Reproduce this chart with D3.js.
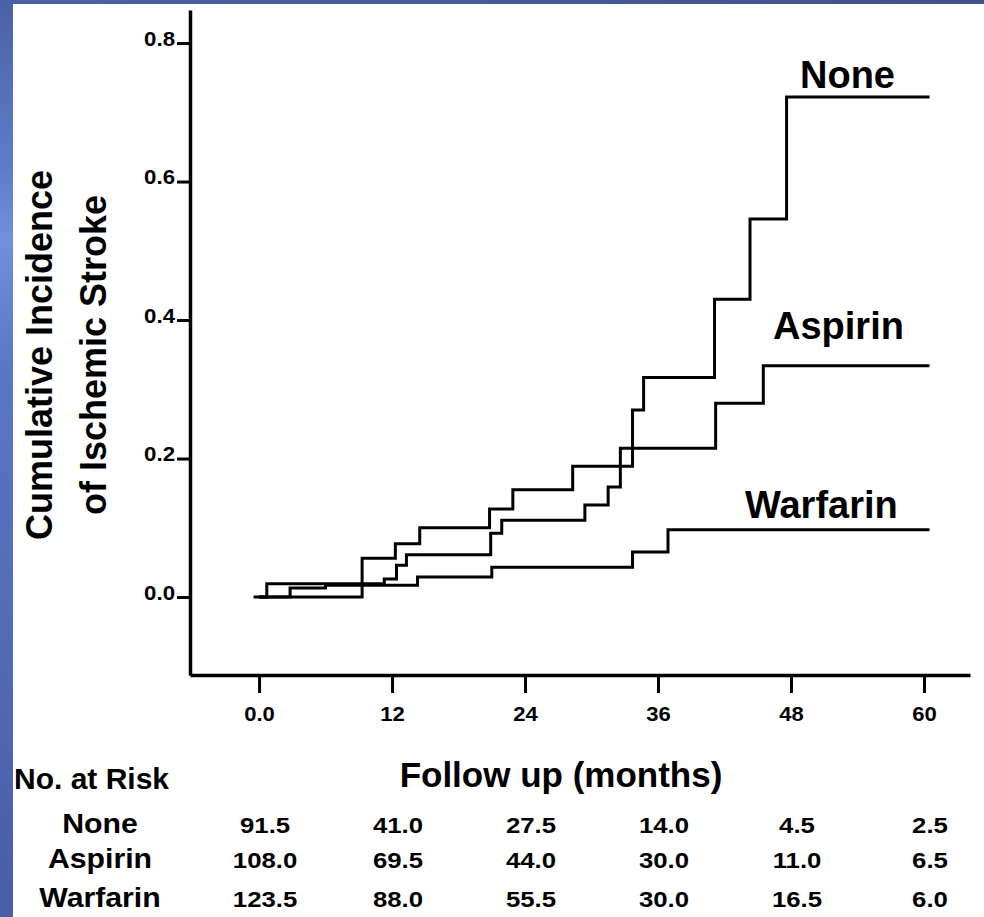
<!DOCTYPE html>
<html>
<head>
<meta charset="utf-8">
<script src="https://cdn.jsdelivr.net/npm/d3@7"></script>
<style>
    html, body { margin: 0; padding: 0; background: #fff; }
    svg { display: block; font-family: "Liberation Sans", Arial, Helvetica, sans-serif; font-weight: bold; }
</style>
</head>
<body>
<svg id="km_chart" width="984" height="917"></svg>
<script>
// step curves: [month, cumulative incidence]
var noneSteps = [[-0.5, 0], [9.3, 0.056], [12.3, 0.077], [14.5, 0.1], [20.8, 0.127], [22.9, 0.155],
    [28.3, 0.189], [33.7, 0.27], [34.7, 0.317], [41.1, 0.43], [44.3, 0.546], [47.6, 0.722], [60.5, 0.722]];
var aspirinSteps = [[0, 0], [0.7, 0.019], [11.3, 0.026], [12.4, 0.046], [13.3, 0.061], [20.9, 0.092],
    [21.9, 0.111], [29.4, 0.133], [31.5, 0.159], [32.6, 0.215], [41.2, 0.28], [45.5, 0.334], [60.5, 0.334]];
var warfarinSteps = [[0, 0], [2.8, 0.013], [6, 0.017], [14.3, 0.029], [21, 0.043], [33.7, 0.065],
    [36.9, 0.097], [60.5, 0.097]];

var seriesNames = ["None", "Aspirin", "Warfarin"];

var xTicks = [0, 12, 24, 36, 48, 60];
var xTickLabels = ["0.0", "12", "24", "36", "48", "60"];
var yTicks = [0, 0.2, 0.4, 0.6, 0.8];

// numbers at risk
var riskMonths = [0, 12, 24, 36, 48, 60];
var riskNone = ["91.5", "41.0", "27.5", "14.0", "4.5", "2.5"];
var riskAspirin = ["108.0", "69.5", "44.0", "30.0", "11.0", "6.5"];
var riskWarfarin = ["123.5", "88.0", "55.5", "30.0", "16.5", "6.0"];

function build_chart() {
    var svg = d3.select("#km_chart");

    // slide background (blue frame on top and left)
    var defs = svg.append("defs");
    var leftGrad = defs.append("linearGradient").attr("id", "leftGrad")
        .attr("x1", 0).attr("y1", 0).attr("x2", 0).attr("y2", 1);
    [["0%", "#4a62a6"], ["18%", "#5d7cc8"], ["26%", "#7090dc"], ["40%", "#5a77c2"], ["100%", "#485ea6"]]
        .forEach(s => leftGrad.append("stop").attr("offset", s[0]).attr("stop-color", s[1]));
    var topGrad = defs.append("linearGradient").attr("id", "topGrad")
        .attr("x1", 0).attr("y1", 0).attr("x2", 1).attr("y2", 0);
    [["0%", "#4a62a6"], ["100%", "#3f528c"]]
        .forEach(s => topGrad.append("stop").attr("offset", s[0]).attr("stop-color", s[1]));

    svg.append("rect").attr("width", 984).attr("height", 917).attr("fill", "#fff");
    svg.append("rect").attr("x", 0).attr("y", 0).attr("width", 13).attr("height", 917).attr("fill", "url(#leftGrad)");
    svg.append("rect").attr("x", 0).attr("y", 0).attr("width", 984).attr("height", 4).attr("fill", "url(#topGrad)");

    // scales, extended so the axis lines run past the first and last ticks
    var x = d3.scaleLinear().domain([-6.23, 64.15]).range([190, 970]);
    var y = d3.scaleLinear().domain([-0.1126, 0.8477]).range([675, 10]);

    // x axis
    var xAxis = svg.append("g")
        .attr("transform", "translate(0," + y.range()[0] + ")")
        .call(d3.axisBottom(x).tickValues(xTicks).tickSize(18).tickSizeOuter(0)
            .tickFormat((d, i) => xTickLabels[i]));
    xAxis.select(".domain").attr("stroke", "#000").attr("stroke-width", 3.5);
    xAxis.selectAll(".tick line").attr("stroke", "#000").attr("stroke-width", 3);
    xAxis.selectAll(".tick text")
        .attr("y", 0).attr("dy", 0)
        .attr("transform", "translate(0,46) scale(1.05,1)")
        .attr("fill", "#000")
        .style("font-size", "21px").style("font-weight", "bold");
    xAxis.attr("font-family", null).attr("font-size", null);

    // y axis
    var yAxis = svg.append("g")
        .attr("transform", "translate(" + x.range()[0] + ",0)")
        .call(d3.axisLeft(y).tickValues(yTicks).tickSize(13).tickSizeOuter(0)
            .tickFormat(d3.format(".1f")));
    yAxis.select(".domain").attr("stroke", "#000").attr("stroke-width", 3.5);
    yAxis.selectAll(".tick line").attr("stroke", "#000").attr("stroke-width", 3);
    yAxis.selectAll(".tick text")
        .attr("x", 0).attr("dy", 0)
        .attr("transform", "translate(-15,2) scale(1.06,1)")
        .attr("fill", "#000")
        .style("font-size", "21px").style("font-weight", "bold");
    yAxis.attr("font-family", null).attr("font-size", null);

    // step curves
    var line = d3.line()
        .x(d => x(d[0]))
        .y(d => y(d[1]))
        .curve(d3.curveStepAfter);

    svg.append("g").selectAll("path")
        .data([noneSteps, aspirinSteps, warfarinSteps])
        .join("path")
        .attr("d", line)
        .attr("fill", "none")
        .attr("stroke", "#000")
        .attr("stroke-width", 3);

    // curve labels
    var curveLabels = [[800, 88], [773, 339], [745, 518]];
    svg.append("g").selectAll("text")
        .data(seriesNames)
        .join("text")
        .attr("x", (d, i) => curveLabels[i][0])
        .attr("y", (d, i) => curveLabels[i][1])
        .style("font-size", "38px")
        .text(d => d);

    // y axis title
    var yTitle = svg.append("text")
        .attr("transform", "translate(52,355) rotate(-90)")
        .attr("text-anchor", "middle")
        .style("font-size", "36px");
    yTitle.append("tspan").attr("x", 0).attr("y", 0).text("Cumulative Incidence");
    yTitle.append("tspan").attr("x", 0).attr("y", 54).text("of Ischemic Stroke");

    // x axis title
    svg.append("text")
        .attr("x", 561).attr("y", 787)
        .attr("text-anchor", "middle")
        .style("font-size", "35px")
        .text("Follow up (months)");

    // numbers at risk table
    svg.append("text")
        .attr("x", 14).attr("y", 789)
        .style("font-size", "30px")
        .text("No. at Risk");

    var rowBaselines = [833, 868, 907];
    var rows = [riskNone, riskAspirin, riskWarfarin];

    svg.append("g").selectAll("text")
        .data(seriesNames)
        .join("text")
        .attr("text-anchor", "middle")
        .attr("transform", (d, i) => "translate(100," + rowBaselines[i] + ") scale(1.08,1)")
        .style("font-size", "28px")
        .text(d => d);

    var rowGroups = svg.append("g").selectAll("g")
        .data(rows)
        .join("g")
        .attr("transform", (d, i) => "translate(0," + rowBaselines[i] + ")");
    rowGroups.selectAll("text")
        .data(d => d)
        .join("text")
        .attr("text-anchor", "middle")
        .attr("transform", (d, i) => "translate(" + (x(riskMonths[i]) + 6) + ",0) scale(1.12,1)")
        .style("font-size", "23px")
        .text(d => d);
}

build_chart();
</script>
</body>
</html>
